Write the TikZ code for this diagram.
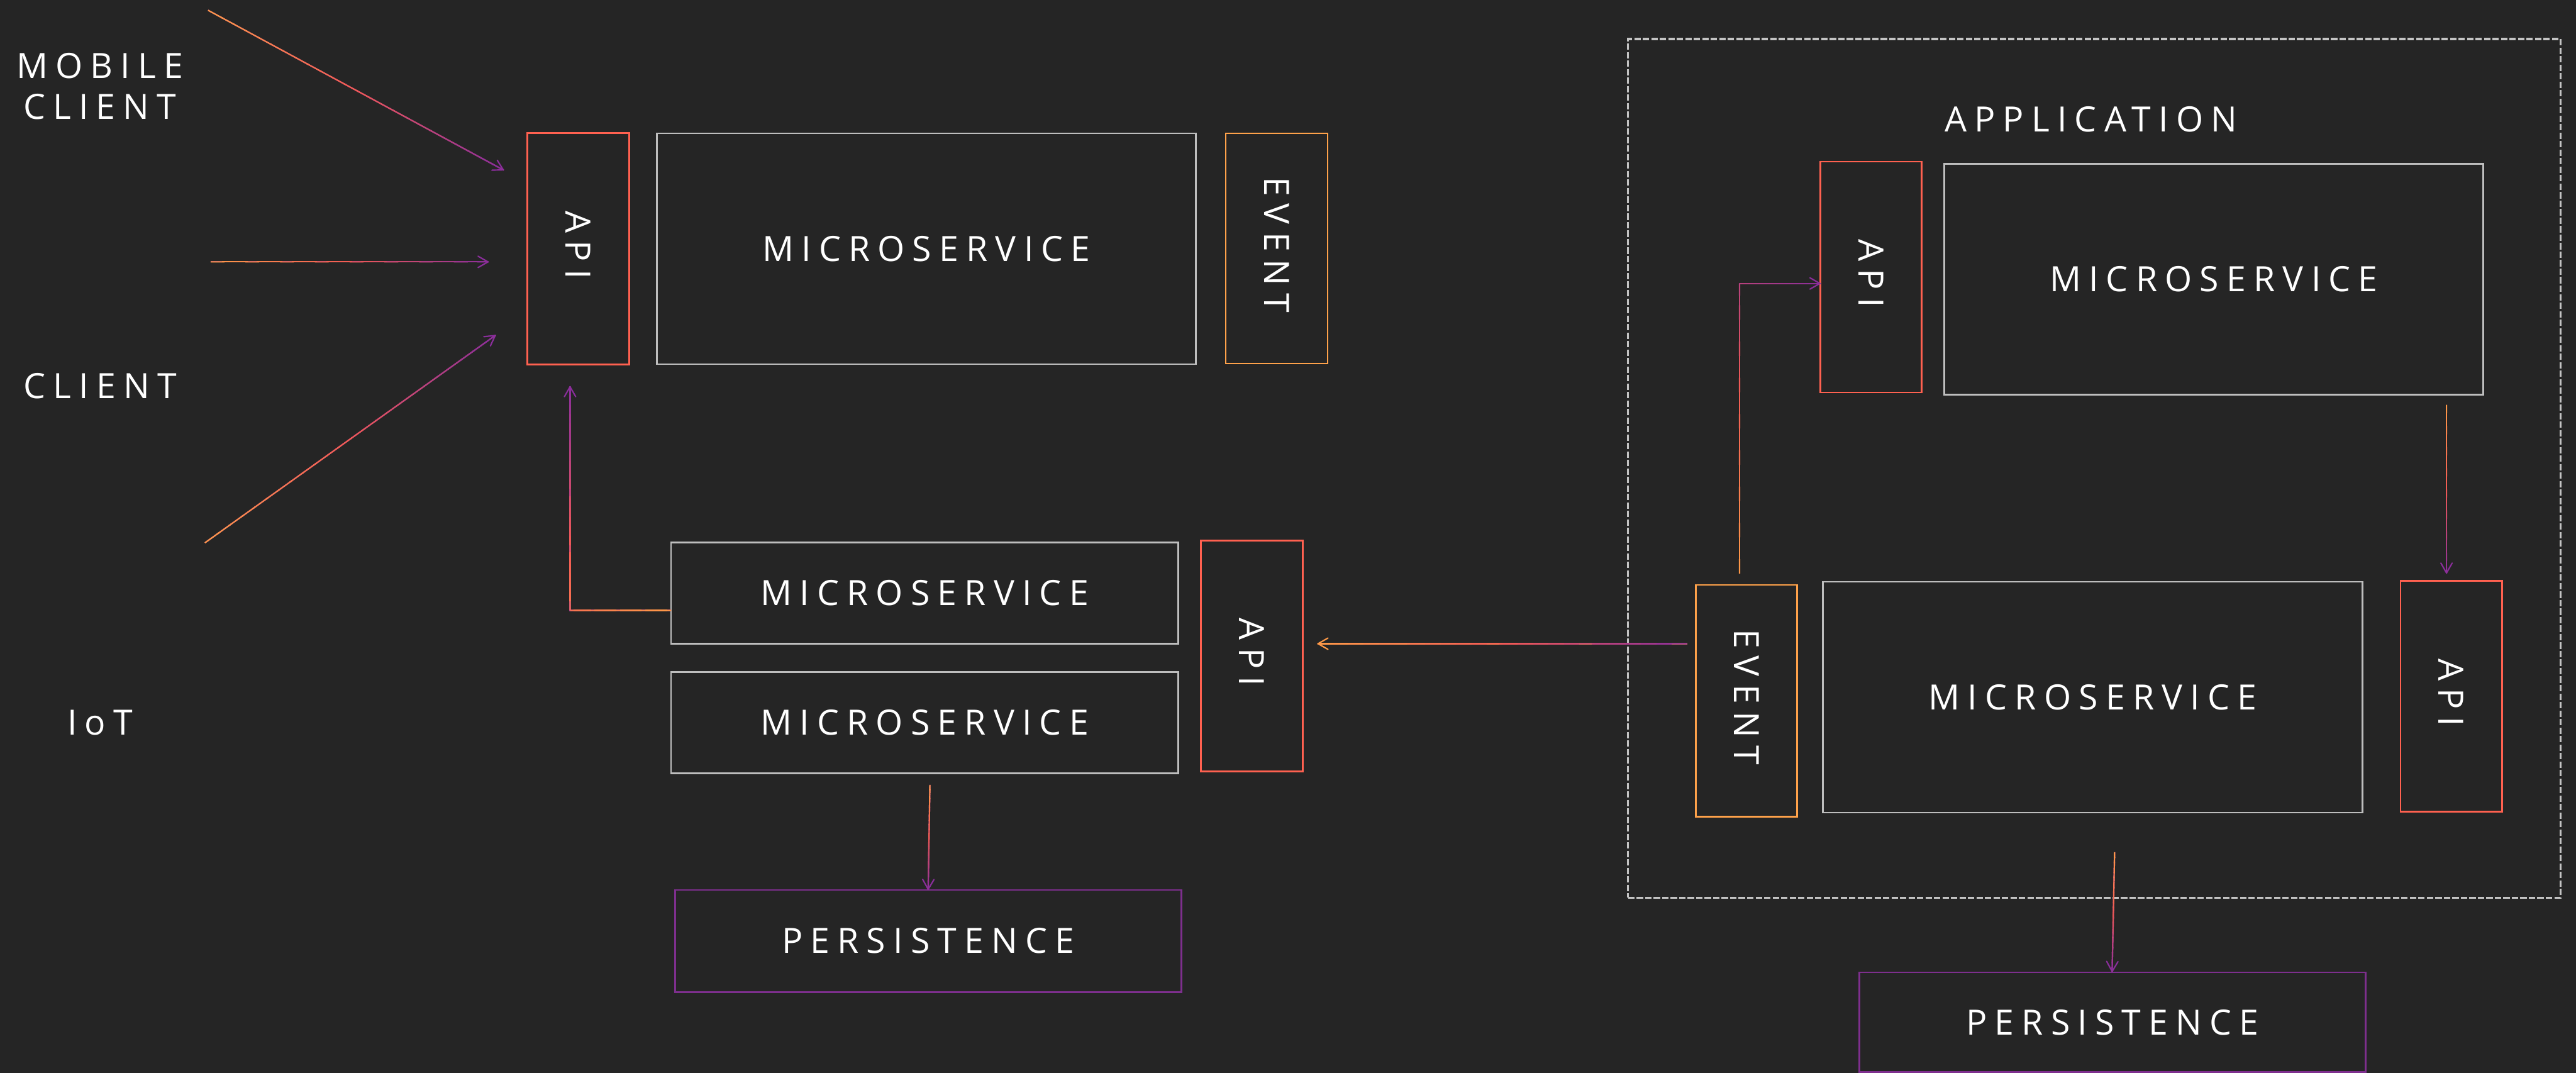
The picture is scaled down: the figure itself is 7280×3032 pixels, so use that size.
\documentclass[tikz,border=0pt]{standalone}
\usepackage{fontspec}
\newfontfamily\lbl{Open Sans}[LetterSpace=22]
\usetikzlibrary{arrows.meta,calc}
\definecolor{bg}{HTML}{252525}
\definecolor{cOrange}{HTML}{FF9A48}
\definecolor{cCoral}{HTML}{F25A55}
\definecolor{cPurple}{HTML}{8A2E9B}
\definecolor{apiC}{HTML}{FF6150}
\definecolor{evtC}{HTML}{FFA24A}
\definecolor{msC}{HTML}{BEBEBE}
\definecolor{perC}{HTML}{7E2F8E}
\definecolor{dashC}{HTML}{C4C4C4}
\newcommand\boxfont{\lbl\fontsize{28}{33}\selectfont}
\newcommand\bt[1]{#1\hspace{0.22em}}
\newcommand\vt[1]{\rotatebox{-90}{#1\hspace{0.22em}}}
\tikzset{
  box/.style={draw, line width=1.4pt, inner sep=0pt, text=white, font=\boxfont},
  apibox/.style={box, draw=apiC},
  evtbox/.style={box, draw=evtC},
  msbox/.style={box, draw=msC},
  perbox/.style={box, draw=perC},
  lbltext/.style={inner sep=0pt, text=white, font=\boxfont, align=center},
  conn/.style={line width=1.1pt},
  tip/.tip={Straight Barb[round, length=0.28cm, width=0.32cm]}
}
\newcommand\gradseg[4]{%
  \foreach \k in {0,...,23}{%
    \pgfmathsetmacro\ta{\k/24}%
    \pgfmathsetmacro\tb{min(1,(\k+1.2)/24)}%
    \pgfmathtruncatemacro\pc{round(200*(#3+(#4-#3)*(\k+0.5)/24))}%
    \ifnum\pc<100 \colorlet{gcol}{cCoral!\pc!cOrange}\else\pgfmathtruncatemacro\pd{\pc-100}\colorlet{gcol}{cPurple!\pd!cCoral}\fi
    \draw[gcol, conn] ($(#1)!\ta!(#2)$) -- ($(#1)!\tb!(#2)$);
  }}
\begin{document}
\begin{tikzpicture}[x=0.01cm, y=-0.01cm]
\fill[bg] (0,0) rectangle (7280,3032);
\useasboundingbox (0,0) rectangle (7280,3032);

% left labels
\node[lbltext] (mobile) at (282,244) {MOBILE\\CLIENT};
\node[lbltext] (client) at (283,1090) {CLIENT};
\node[lbltext] (iot) at (283,2042) {IoT};

% top row
\node[apibox, minimum width=2.88cm, minimum height=6.53cm] (api1) at (1634,703) {\vt{API}};
\node[msbox, minimum width=15.23cm, minimum height=6.52cm] (ms1) at (2618,703) {\bt{MICROSERVICE}};
\node[evtbox, minimum width=2.88cm, minimum height=6.50cm] (evt1) at (3608,702) {\vt{EVENT}};

% middle left
\node[msbox, minimum width=14.32cm, minimum height=2.86cm] (msA) at (2613,1676) {\bt{MICROSERVICE}};
\node[msbox, minimum width=14.32cm, minimum height=2.86cm] (msB) at (2613,2042) {\bt{MICROSERVICE}};
\node[apibox, minimum width=2.88cm, minimum height=6.52cm] (api2) at (3538,1854) {\vt{API}};
\node[perbox, minimum width=14.30cm, minimum height=2.88cm] (per1) at (2623,2659) {\bt{PERSISTENCE}};

% application frame
\node[draw=dashC, line width=1.6pt, dash pattern=on 0.18cm off 0.06cm, minimum width=26.33cm, minimum height=24.25cm, inner sep=0pt] (app) at (5918.5,1323.5) {};
\node[lbltext, anchor=west] (apptitle) at (5495,337) {APPLICATION};
\node[apibox, minimum width=2.86cm, minimum height=6.52cm] (api3) at (5288,783) {\vt{API}};
\node[msbox, minimum width=15.22cm, minimum height=6.52cm] (ms3) at (6256,789) {\bt{MICROSERVICE}};
\node[evtbox, minimum width=2.87cm, minimum height=6.54cm] (evt2) at (4935.5,1980) {\vt{EVENT}};
\node[msbox, minimum width=15.24cm, minimum height=6.52cm] (ms4) at (5914,1970) {\bt{MICROSERVICE}};
\node[apibox, minimum width=2.87cm, minimum height=6.52cm] (api4) at (6927.5,1968) {\vt{API}};
\node[perbox, minimum width=14.30cm, minimum height=2.82cm] (per2) at (5970,2889) {\bt{PERSISTENCE}};

% connector coordinates
\coordinate (a1s) at (588,29);   \coordinate (a1e) at (1424,481);
\coordinate (a2s) at (595,740);  \coordinate (a2e) at (1381,740);
\coordinate (a3s) at (579,1534); \coordinate (a3e) at (1401,947);
\coordinate (a4s) at (1897,1725); \coordinate (a4c) at (1611,1725); \coordinate (a4e) at (1611,1091);
\coordinate (a5s) at (2628,2218); \coordinate (a5e) at (2623,2515);
\coordinate (a6s) at (4768,1819); \coordinate (a6e) at (3723,1819);
\coordinate (a7s) at (4916,1621); \coordinate (a7c) at (4916,801); \coordinate (a7e) at (5145,801);
\coordinate (a8s) at (6914,1144); \coordinate (a8e) at (6914,1621);
\coordinate (a9s) at (5976,2408); \coordinate (a9e) at (5969,2747);

% connectors
\draw[conn, cPurple, -{tip}] (a1s) -- (a1e); \gradseg{a1s}{a1e}{0}{1}
\draw[conn, cPurple, -{tip}] (a2s) -- (a2e); \gradseg{a2s}{a2e}{0}{1}
\draw[conn, cPurple, -{tip}] (a3s) -- (a3e); \gradseg{a3s}{a3e}{0}{1}
\draw[conn, cPurple, -{tip}] (a4s) -- (a4c) -- (a4e); \gradseg{a4s}{a4c}{0}{0.31}\gradseg{a4c}{a4e}{0.31}{1}
\draw[conn, cPurple, -{tip}] (a5s) -- (a5e); \gradseg{a5s}{a5e}{0}{1}
\draw[conn, cOrange, -{tip}] (a6s) -- (a6e); \gradseg{a6s}{a6e}{1}{0}
\draw[conn, cPurple, -{tip}] (a7s) -- (a7c) -- (a7e); \gradseg{a7s}{a7c}{0}{0.78}\gradseg{a7c}{a7e}{0.78}{1}
\draw[conn, cPurple, -{tip}] (a8s) -- (a8e); \gradseg{a8s}{a8e}{0}{1}
\draw[conn, cPurple, -{tip}] (a9s) -- (a9e); \gradseg{a9s}{a9e}{0}{1}
\end{tikzpicture}
\end{document}
